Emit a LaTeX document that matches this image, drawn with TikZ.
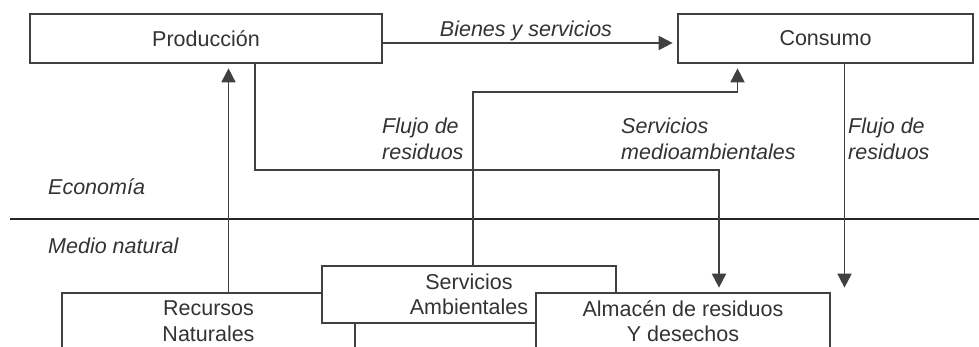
\documentclass[tikz,border=0pt]{standalone}
\usepackage{fontspec}
\setmainfont{Liberation Sans}
\usepackage{tikz}
\usetikzlibrary{arrows.meta,positioning,calc}

\begin{document}
\begin{tikzpicture}[x=1pt, y=-1pt,
  every node/.style={font=\fontsize{21.5}{25.5}\selectfont, text=black!80},
  caja/.style={draw=black!75, line width=1.7pt, fill=white, inner sep=0pt, align=center},
  flecha/.style={draw=black!75, line width=1.8pt, -{Triangle[width=14pt,length=14pt]}, shorten >=4.5pt},
  rotulo/.style={font=\fontsize{21.5}{25.5}\selectfont\itshape, align=left, inner sep=0pt}]
\useasboundingbox (0,0) rectangle (979,347);
\clip (0,0) rectangle (979,347);
\fill[white] (0,0) rectangle (979,347);

% economia
\node[caja, minimum width=352pt, minimum height=49pt] (prod) at (206,38.5) {Producción};
\node[caja, minimum width=295pt, minimum height=49pt] (cons) at (825.5,38.5) {Consumo};

% medio natural
\node[caja, minimum width=293pt, minimum height=56pt] (rec) at (208.5,321) {Recursos\\Naturales};
\node[caja, minimum width=294pt, minimum height=57pt] (serv) at (469,294.5) {Servicios\\Ambientales};
\node[caja, minimum width=294pt, minimum height=56pt] (alm) at (683,321) {Almacén de residuos\\Y desechos};

\draw[line width=2.8pt, black!85] (10,219) -- (979,219);
\node[rotulo, anchor=west] (eco) at (48,187) {Economía};
\node[rotulo, anchor=west] (med) at (48,246) {Medio natural};

% flujos
\draw[flecha] ([yshift=-4.5pt]prod.east) -- ([yshift=-4.5pt]cons.west);
\node[rotulo, anchor=base] (bienes) at (526,37) {Bienes y servicios};

\draw[flecha] ([xshift=20pt]rec.north) -- ([xshift=20pt]rec.north |- prod.south);

\draw[flecha] ([xshift=49pt]prod.south) -- ++(0,106) -| ([xshift=36pt]alm.north);
\node[rotulo, anchor=west] (flujo1) at (382,139) {Flujo de\\residuos};

\draw[flecha] ([xshift=4pt]serv.north) -- ++(0,-173) -| ([xshift=-88pt]cons.south);
\node[rotulo, anchor=west] (servma) at (621,139) {Servicios\\medioambientales};

\coordinate (fin) at ([xshift=19pt]cons.south |- alm.north);
\draw[flecha] ([xshift=19pt]cons.south) -- (fin);
\node[rotulo, anchor=west] (flujo2) at (848,139) {Flujo de\\residuos};
\end{tikzpicture}
\end{document}
